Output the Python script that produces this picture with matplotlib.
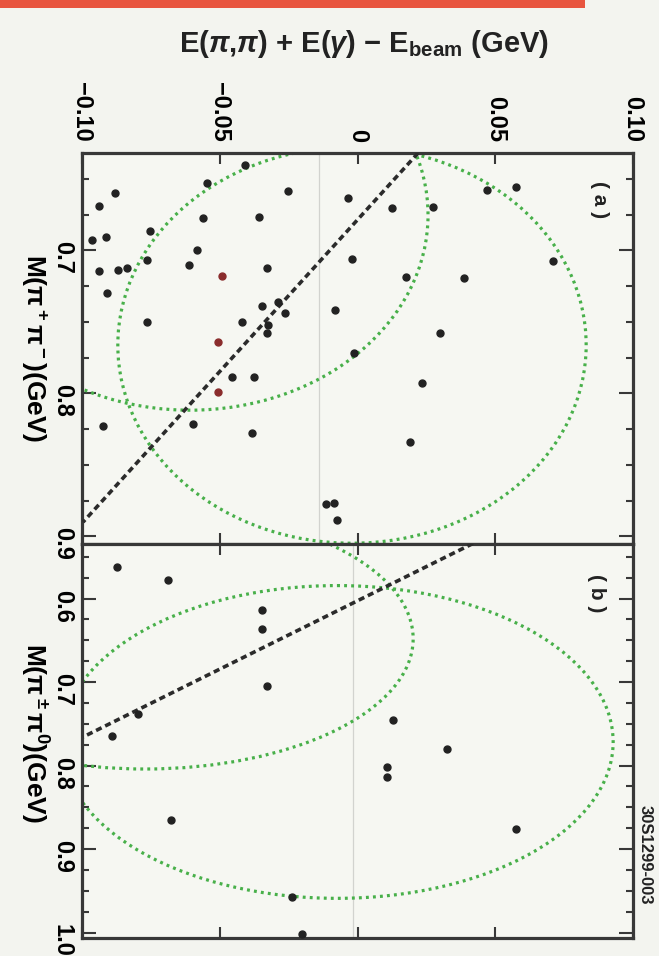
import matplotlib
matplotlib.use("Agg")
import matplotlib.pyplot as plt
from matplotlib.patches import Ellipse, Rectangle
from matplotlib.ticker import MultipleLocator

# fuentes: todo en negrita tipo helvetica
plt.rcParams["font.family"] = ["Liberation Sans", "DejaVu Sans"]
plt.rcParams["font.weight"] = "bold"
plt.rcParams["mathtext.fontset"] = "custom"
plt.rcParams["mathtext.rm"] = "Liberation Sans:bold"
plt.rcParams["mathtext.it"] = "Liberation Sans:italic:bold"
plt.rcParams["mathtext.bf"] = "Liberation Sans:bold"

# panel (a): E(pi,pi)+E(gamma)-Ebeam frente a M(pi+ pi-)
e_a = [-0.0408, -0.0546, -0.0252, -0.0880, -0.0938, -0.0561, -0.0358, -0.0753,
       -0.0913, -0.0964, -0.0583, -0.0764, -0.0612, -0.0329, -0.0869, -0.0837,
       -0.0938, -0.0909, -0.0347, -0.0289, -0.0263, -0.0764, -0.0419, -0.0325,
       -0.0328, -0.0456, -0.0376, -0.0597, -0.0924, -0.0383, -0.0115, -0.0086,
       -0.0074, -0.0034, 0.0125, 0.0274, 0.0470, 0.0575, -0.0020, 0.0176,
       0.0387, 0.0710, -0.0082, 0.0299, -0.0013, 0.0234, 0.0191]
m_a = [0.6404, 0.6530, 0.6586, 0.6600, 0.6691, 0.6775, 0.6768, 0.6865,
       0.6907, 0.6928, 0.6998, 0.7068, 0.7103, 0.7124, 0.7138, 0.7124,
       0.7145, 0.7299, 0.7390, 0.7362, 0.7439, 0.7502, 0.7502, 0.7523,
       0.7579, 0.7886, 0.7886, 0.8215, 0.8229, 0.8278, 0.8775, 0.8768,
       0.8886, 0.6635, 0.6705, 0.6698, 0.6579, 0.6558, 0.7061, 0.7187,
       0.7194, 0.7075, 0.7418, 0.7579, 0.7719, 0.7928, 0.8341]
# tres puntos que salen rojizos en E = -0.05
e_a_rojo = [-0.0492, -0.0506, -0.0506]
m_a_rojo = [0.7180, 0.7642, 0.7991]

# panel (b): frente a M(pi+- pi0)
e_b = [-0.0873, -0.0688, -0.0347, -0.0347, -0.0328, -0.0797, -0.0891, -0.0677,
       -0.0238, -0.0201, 0.0129, 0.0325, 0.0107, 0.0107, 0.0575]
m_b = [0.5616, 0.5772, 0.6132, 0.6360, 0.7045, 0.7381, 0.7645, 0.8653,
       0.9578, 1.0022, 0.7453, 0.7801, 0.8017, 0.8137, 0.8761]

# limites cinematicos: elipses (centro E, centro M, semieje E, semieje M)
elipses_a = [(-0.0020, 0.7663, 0.0850, 0.1385),
             (-0.0608, 0.6754, 0.0864, 0.1364)]
elipses_b = [(-0.0074, 0.7717, 0.1002, 0.1873),
             (-0.0771, 0.6480, 0.0973, 0.1561)]

# recta discontinua de cada panel
recta_a_e = [0.0220, -0.0996]
recta_a_m = [0.632, 0.890]
recta_b_e = [0.0419, -0.0996]
recta_b_m = [0.534, 0.7657]

# lineas finas verticales que se ven en el escaneo
e_guia_a = -0.014
e_guia_b = -0.0016

ticks_e = [-0.10, -0.05, 0, 0.05, 0.10]
etiquetas_e = ["\u22120.10", "\u22120.05", "0", "0.05", "0.10"]
ticks_m_a = [0.7, 0.8, 0.9]
ticks_m_b = [0.6, 0.7, 0.8, 0.9, 1.0]

FONDO = "#f3f4ef"
VERDE = "#48b04a"
NEGRO = "#222222"
ROJO = "#c0392b"
MARCO = "#383838"

fig = plt.figure(figsize=(6.59, 9.56), dpi=100)
fig.patch.set_facecolor(FONDO)

# franja roja de arriba
fig.patches.append(Rectangle((0, 1 - 8 / 956), 585 / 659, 8 / 956, transform=fig.transFigure,
                             facecolor="#e8553f", edgecolor="none"))

ax_a = fig.add_axes([82 / 659, 1 - 543.5 / 956, 551 / 659, 390.5 / 956])
ax_b = fig.add_axes([82 / 659, 1 - 938 / 956, 551 / 659, 394.5 / 956])


def dibujar_panel(ax, e, m, elipses, recta_e, recta_m, e_guia):
    ax.set_facecolor("#f6f7f2")
    ax.axvline(e_guia, color="#d2d3cf", lw=0.9, zorder=1)
    for ce, cm, se, sm in elipses:
        ax.add_patch(Ellipse((ce, cm), 2 * se, 2 * sm, fill=False, edgecolor=VERDE,
                             lw=2.3, ls=(0, (0.9, 1.3)), zorder=2))
    ax.plot(recta_e, recta_m, color="#2b2b2b", lw=2.6, ls=(0, (1.7, 1.1)), zorder=3)
    ax.plot(e, m, "o", color=NEGRO, ms=5, mec=NEGRO, zorder=4, clip_on=False)
    for spine in ax.spines.values():
        spine.set_linewidth(2.3)
        spine.set_edgecolor(MARCO)
    ax.set_xlim(-0.10, 0.10)
    ax.set_xticks(ticks_e, etiquetas_e)
    ax.tick_params(axis="x", which="both", direction="in", top=True, bottom=True,
                   length=8, width=1.5, color=MARCO, labelbottom=False, labeltop=False,
                   labelsize=17, labelrotation=270, pad=8)
    ax.yaxis.set_minor_locator(MultipleLocator(0.025))
    ax.tick_params(axis="y", which="both", direction="in", left=True, right=True,
                   width=1.5, color=MARCO, labelsize=17, labelrotation=270, pad=6)
    ax.tick_params(axis="y", which="major", length=10)
    ax.tick_params(axis="y", which="minor", length=5)


dibujar_panel(ax_a, e_a, m_a, elipses_a, recta_a_e, recta_a_m, e_guia_a)
ax_a.plot(e_a_rojo, m_a_rojo, "o", color="#8a2c2c", ms=5, zorder=4)
dibujar_panel(ax_b, e_b, m_b, elipses_b, recta_b_e, recta_b_m, e_guia_b)

# ejes de masa hacia abajo, como en el original girado
ax_a.set_ylim(0.905, 0.632)
ax_a.set_yticks(ticks_m_a, [f"{v:.1f}" for v in ticks_m_a])
ax_b.set_ylim(1.0065, 0.534)
ax_b.set_yticks(ticks_m_b, [f"{v:.1f}" for v in ticks_m_b])

# solo el panel de arriba lleva las etiquetas de energia
ax_a.tick_params(axis="x", labeltop=True)

# marcas rojas en E = -0.05
ax_a.xaxis.get_major_ticks()[1].tick2line.set_color(ROJO)
ax_a.xaxis.get_major_ticks()[1].tick1line.set_color(ROJO)
ax_b.xaxis.get_major_ticks()[1].tick2line.set_color(ROJO)

ax_a.set_ylabel(r"M($\mathrm{\pi^+ \pi^-}$)(GeV)", rotation=270, fontsize=19,
                fontweight="bold", va="center")
ax_a.yaxis.set_label_coords(-0.087, 0.5)
ax_b.set_ylabel(r"M($\mathrm{\pi^\pm \pi^0}$)(GeV)", rotation=270, fontsize=19,
                fontweight="bold", va="center")
ax_b.yaxis.set_label_coords(-0.087, 0.52)

ax_a.text(0.94, 0.88, "( a )", transform=ax_a.transAxes, rotation=270, fontsize=15,
          ha="center", va="center", color=NEGRO)
ax_b.text(0.934, 0.875, "( b )", transform=ax_b.transAxes, rotation=270, fontsize=15,
          ha="center", va="center", color=NEGRO)

fig.text(0.552, 1 - 44 / 956, "E($\\pi$,$\\pi$) + E($\\gamma$) \u2212 E$_{\\rm beam}$ (GeV)",
         ha="center", va="center", fontsize=21, color=NEGRO)
fig.text(645 / 659, 1 - 855 / 956, "30S1299-003", rotation=270, fontsize=12,
         ha="center", va="center", color=NEGRO)

fig.savefig("out.png", dpi=100, facecolor=fig.get_facecolor())
